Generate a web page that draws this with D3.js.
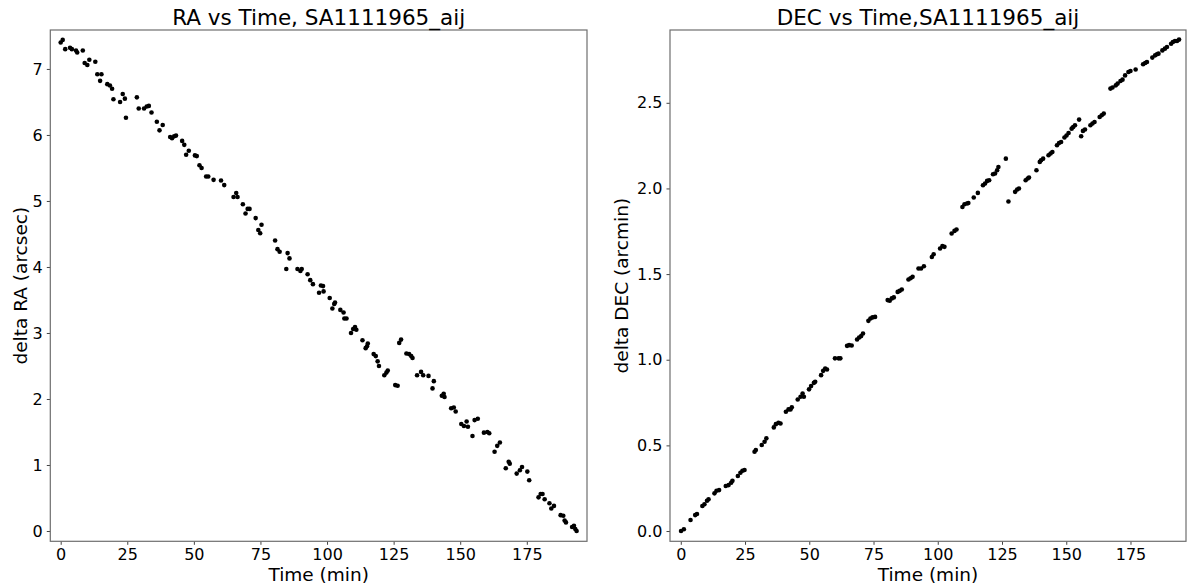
<!DOCTYPE html>
<html>
<head>
<meta charset="utf-8">
<script src="https://cdn.jsdelivr.net/npm/d3@7"></script>
<style>
	body { margin: 0; background: #fff; }
	svg text { font-family: "DejaVu Sans", sans-serif; fill: #000; }
	.tick text { font-size: 16px; }
	.domain { display: none; }
	.tick line { stroke: #444; }
</style>
</head>
<body>
<div id="chart"></div>
<script>

///////////////////////////////////////////////////////////////////////////
//////////////////////////////// The data /////////////////////////////////
///////////////////////////////////////////////////////////////////////////

//RA offsets (arcsec) against time (min)
var raTime = [0.0,0.75,1.7,3.5,4.2,5.75,6.2,8.3,9.0,10.0,10.75,13.0,13.75,15.3,14.8,17.5,18.5,19.3,19.8,22.3,
	23.3,24.1,24.5,28.6,29.3,31.3,32.3,33.1,34.1,36.1,37.1,38.3,41.1,41.8,42.6,43.3,45.6,46.4,47.1,48.1,
	50.4,51.1,52.1,52.9,54.6,55.4,57.4,60.2,61.4,64.9,65.9,66.4,68.4,69.4,70.2,70.9,73.2,74.2,74.9,75.4,
	80.5,81.4,82.2,84.7,85.2,85.9,88.9,90.0,90.5,92.7,93.7,94.7,97.0,97.7,98.5,98.7,101.0,102.0,102.7,103.0,
	105.0,106.2,106.5,107.3,109.0,109.8,110.5,111.0,113.3,114.5,115.0,115.3,117.5,118.3,119.0,119.5,121.5,122.3,122.8,125.6,
	126.5,127.1,127.8,129.8,130.8,131.6,132.1,133.8,135.3,136.1,138.1,139.6,140.1,143.1,143.8,144.1,146.6,147.6,148.3,150.4,
	151.4,152.4,152.9,154.6,155.4,156.6,158.9,160.2,160.9,162.9,163.9,164.9,167.1,168.2,168.6,171.2,172.4,173.2,175.2,175.9,
	179.4,180.2,180.9,181.7,183.5,184.2,185.2,187.7,188.7,189.2,189.7,192.0,192.7,193.2,193.7];
var raDelta = [7.40,7.44,7.30,7.32,7.30,7.28,7.25,7.28,7.09,7.06,7.14,7.11,6.92,6.92,6.82,6.77,6.75,6.70,6.54,6.50,
	6.62,6.55,6.26,6.57,6.40,6.40,6.43,6.44,6.34,6.20,6.07,6.15,5.97,5.95,5.98,5.99,5.91,5.85,5.70,5.76,
	5.69,5.68,5.54,5.50,5.37,5.37,5.32,5.31,5.24,5.06,5.12,5.06,4.95,4.81,4.88,4.88,4.74,4.56,4.51,4.64,
	4.40,4.27,4.23,3.97,4.21,4.13,3.97,3.94,3.97,3.89,3.80,3.74,3.61,3.72,3.71,3.63,3.53,3.37,3.44,3.46,
	3.35,3.31,3.22,3.22,3.00,3.06,3.09,3.05,2.89,2.77,2.80,2.84,2.68,2.65,2.57,2.50,2.36,2.40,2.43,2.21,
	2.20,2.85,2.90,2.69,2.68,2.65,2.62,2.36,2.41,2.36,2.35,2.16,2.27,2.05,2.08,2.03,1.86,1.87,1.81,1.62,
	1.59,1.66,1.58,1.44,1.68,1.70,1.49,1.50,1.48,1.20,1.29,1.34,0.95,1.05,1.02,0.87,0.92,0.97,0.90,0.77,
	0.51,0.56,0.56,0.48,0.42,0.34,0.38,0.24,0.23,0.16,0.13,0.06,0.08,0.03,0.00];

//DEC offsets (arcmin) against time (min)
var decTime = [0.1,1.2,3.8,5.6,6.3,8.4,9.2,10.2,10.8,13.1,13.9,14.9,17.5,18.6,19.6,20.1,22.2,23.2,24.0,24.8,
	28.7,29.2,31.5,32.6,33.3,36.2,37.0,38.0,38.8,40.9,41.9,42.7,43.2,45.5,46.6,47.4,47.9,49.9,50.7,51.8,
	52.3,54.6,55.4,56.2,56.9,60.0,61.4,62.1,64.7,65.5,66.5,68.6,69.4,70.2,70.9,73.0,73.8,74.6,75.6,80.5,
	81.3,82.1,82.9,84.4,85.2,86.0,88.6,89.4,90.2,92.5,93.5,94.6,97.7,98.4,100.9,101.8,102.6,105.4,106.5,107.3,
	109.6,110.4,111.4,111.9,114.0,115.6,117.6,118.4,119.2,120.0,121.5,122.3,123.1,123.6,126.5,127.5,130.1,130.9,131.6,134.2,
	135.0,135.5,138.4,139.7,140.2,141.0,143.1,143.9,144.6,146.4,147.2,148.0,149.3,150.1,150.9,152.1,152.7,153.4,155.0,155.8,
	156.5,157.3,159.4,160.2,161.0,163.0,163.8,164.6,167.2,168.0,169.3,170.0,171.1,171.9,172.9,174.2,175.0,177.0,179.9,180.7,
	181.4,183.5,184.6,185.3,185.9,187.4,188.4,189.2,190.8,191.5,192.3,193.1,193.9];
var decDelta = [0.000,0.010,0.064,0.093,0.099,0.146,0.156,0.177,0.185,0.220,0.235,0.239,0.263,0.268,0.282,0.293,0.321,0.340,0.352,0.356,
	0.463,0.473,0.502,0.521,0.541,0.605,0.624,0.632,0.628,0.696,0.710,0.710,0.722,0.768,0.784,0.803,0.784,0.827,0.846,0.865,
	0.871,0.910,0.935,0.949,0.943,1.008,1.008,1.008,1.081,1.085,1.083,1.118,1.130,1.138,1.153,1.227,1.241,1.247,1.250,1.348,
	1.344,1.358,1.364,1.396,1.402,1.410,1.468,1.476,1.484,1.533,1.533,1.546,1.600,1.616,1.649,1.663,1.659,1.737,1.752,1.760,
	1.892,1.908,1.912,1.915,1.947,1.974,2.019,2.029,2.044,2.048,2.083,2.087,2.106,2.125,2.174,1.924,1.980,1.994,2.000,2.048,
	2.058,2.064,2.106,2.155,2.165,2.174,2.194,2.204,2.213,2.252,2.265,2.271,2.297,2.309,2.324,2.349,2.359,2.369,2.402,2.305,
	2.336,2.344,2.369,2.379,2.388,2.417,2.427,2.437,2.583,2.589,2.602,2.612,2.627,2.635,2.660,2.680,2.686,2.694,2.725,2.732,
	2.738,2.764,2.777,2.783,2.787,2.806,2.816,2.826,2.845,2.855,2.861,2.861,2.869];

//Tick values
var timeTicks = [0, 25, 50, 75, 100, 125, 150, 175];
var raTicks = [0, 1, 2, 3, 4, 5, 6, 7];
var decTicks = [0, 0.5, 1.0, 1.5, 2.0, 2.5];

///////////////////////////////////////////////////////////////////////////
//////////////////////////// Set up the SVG ///////////////////////////////
///////////////////////////////////////////////////////////////////////////

var width = 1187,
	height = 588;

var svg = d3.select("#chart")
	.append("svg")
	.attr("width", width)
	.attr("height", height);

drawPanel({
	left: 50.3, right: 587, top: 30, bottom: 541.3,
	xDomain: [-3.9, 197.6], yDomain: [-0.156, 7.59],
	time: raTime, values: raDelta,
	yTicks: raTicks, yFormat: d3.format("d"),
	title: "RA vs Time, SA1111965_aij",
	yLabel: "delta RA (arcsec)", yLabelX: 26.5
});

drawPanel({
	left: 670, right: 1186, top: 30, bottom: 541.3,
	xDomain: [-4.2, 196.6], yDomain: [-0.060, 2.925],
	time: decTime, values: decDelta,
	yTicks: decTicks, yFormat: d3.format(".1f"),
	title: "DEC vs Time,SA1111965_aij",
	yLabel: "delta DEC (arcmin)", yLabelX: 628
});

///////////////////////////////////////////////////////////////////////////
//////////////////// Function to draw one scatter panel ///////////////////
///////////////////////////////////////////////////////////////////////////

function drawPanel(p) {

	var x = d3.scaleLinear().domain(p.xDomain).range([p.left, p.right]);
	var y = d3.scaleLinear().domain(p.yDomain).range([p.bottom, p.top]);

	var g = svg.append("g");

	//Axes with short outside ticks
	g.append("g")
		.attr("transform", "translate(0," + p.bottom + ")")
		.call(d3.axisBottom(x).tickValues(timeTicks).tickSize(3.5).tickPadding(4).tickFormat(d3.format("d")));

	g.append("g")
		.attr("transform", "translate(" + p.left + ",0)")
		.call(d3.axisLeft(y).tickValues(p.yTicks).tickSize(3.5).tickPadding(4).tickFormat(p.yFormat));

	//Frame round the plot area
	g.append("rect")
		.attr("x", p.left)
		.attr("y", p.top)
		.attr("width", p.right - p.left)
		.attr("height", p.bottom - p.top)
		.style("fill", "none")
		.style("stroke", "#6e6e6e")
		.style("stroke-width", 1.2);

	//The points
	g.selectAll(".dot")
		.data(p.time)
		.enter().append("circle")
		.attr("class", "dot")
		.attr("cx", function(d) { return x(d); })
		.attr("cy", function(d,i) { return y(p.values[i]); })
		.attr("r", 2.3)
		.style("fill", "#000");

	//Title and labels
	g.append("text")
		.attr("x", (p.left + p.right)/2)
		.attr("y", 25)
		.attr("text-anchor", "middle")
		.style("font-size", "21.5px")
		.text(p.title);

	g.append("text")
		.attr("x", (p.left + p.right)/2)
		.attr("y", 580.5)
		.attr("text-anchor", "middle")
		.style("font-size", "18.5px")
		.text("Time (min)");

	g.append("text")
		.attr("transform", "translate(" + p.yLabelX + "," + ((p.top + p.bottom)/2) + ") rotate(-90)")
		.attr("text-anchor", "middle")
		.style("font-size", "18.5px")
		.text(p.yLabel);

}//function drawPanel

</script>
</body>
</html>
